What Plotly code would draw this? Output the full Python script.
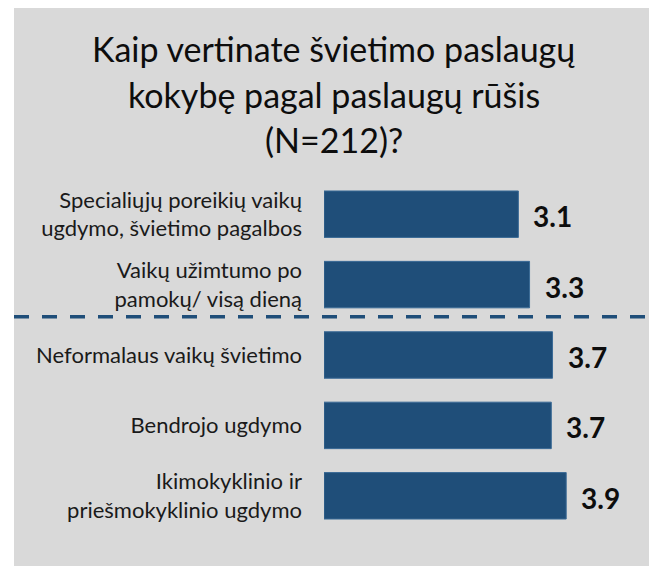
import plotly.graph_objects as go

categories = [
    "Specialiųjų poreikių vaikų<br>ugdymo, švietimo pagalbos",
    "Vaikų užimtumo po<br>pamokų/ visą dieną",
    "Neformalaus vaikų švietimo",
    "Bendrojo ugdymo",
    "Ikimokyklinio ir<br>priešmokyklinio ugdymo",
]
values = [3.13, 3.31, 3.68, 3.66, 3.90]
title_lines = ["Kaip vertinate švietimo paslaugų", "kokybę pagal paslaugų rūšis", "(N=212)?"]

OFF = 8  # page body margin
W, H = 657 - OFF, 566 - OFF
L, R, T, B = 324 - OFF, 4, 179 - OFF, 35
pw, ph = W - L - R, H - T - B
px_per_unit = 62.1
BLUE = "#1F4E79"
FONT = "Lato"

def px_x(p):
    return (p - OFF - L) / pw

def px_y(p):
    return (H - B - (p - OFF)) / ph

fig = go.Figure()
fig.add_trace(go.Bar(
    x=values, y=categories, orientation="h", width=0.66,
    marker=dict(color=BLUE, line=dict(color="#3A6A96", width=1)),
    hoverinfo="skip",
))

annotations = []
for c, v in zip(categories, values):
    annotations.append(dict(
        x=v, y=c, xref="x", yref="y", text=f"<b>{v:.1f}</b>", showarrow=False,
        xanchor="left", yanchor="middle", xshift=13, yshift=-2,
        font=dict(family=FONT, size=28, color="#0d0d0d"),
    ))
for line, base in zip(title_lines, [61, 106.7, 151.7]):
    annotations.append(dict(
        x=px_x(333.5), y=px_y(base - 12), xref="paper", yref="paper", text=line,
        showarrow=False, xanchor="center", yanchor="middle",
        font=dict(family=FONT, size=34, color="#0d0d0d"),
    ))

shapes = [
    dict(type="rect", xref="paper", yref="paper", x0=px_x(14), x1=px_x(653),
         y0=px_y(OFF), y1=px_y(566), fillcolor="#D9D9D9", line=dict(width=0), layer="below"),
    dict(type="line", xref="paper", yref="y", x0=px_x(14), x1=px_x(645),
         y0=1.457, y1=1.457, line=dict(color=BLUE, width=3.5, dash="15px,13px")),
]

fig.update_layout(
    width=W, height=H, margin=dict(l=L, r=R, t=T, b=B),
    paper_bgcolor="white", plot_bgcolor="rgba(0,0,0,0)",
    showlegend=False, annotations=annotations, shapes=shapes,
    xaxis=dict(range=[0, pw / px_per_unit], visible=False),
    yaxis=dict(type="category", categoryarray=categories, range=[4.5, -0.5],
               showgrid=False, zeroline=False, showline=False, ticks="",
               ticklabelstandoff=21,
               tickfont=dict(family=FONT, size=22, color="#1a1a1a")),
)
fig.write_html("out.html")
